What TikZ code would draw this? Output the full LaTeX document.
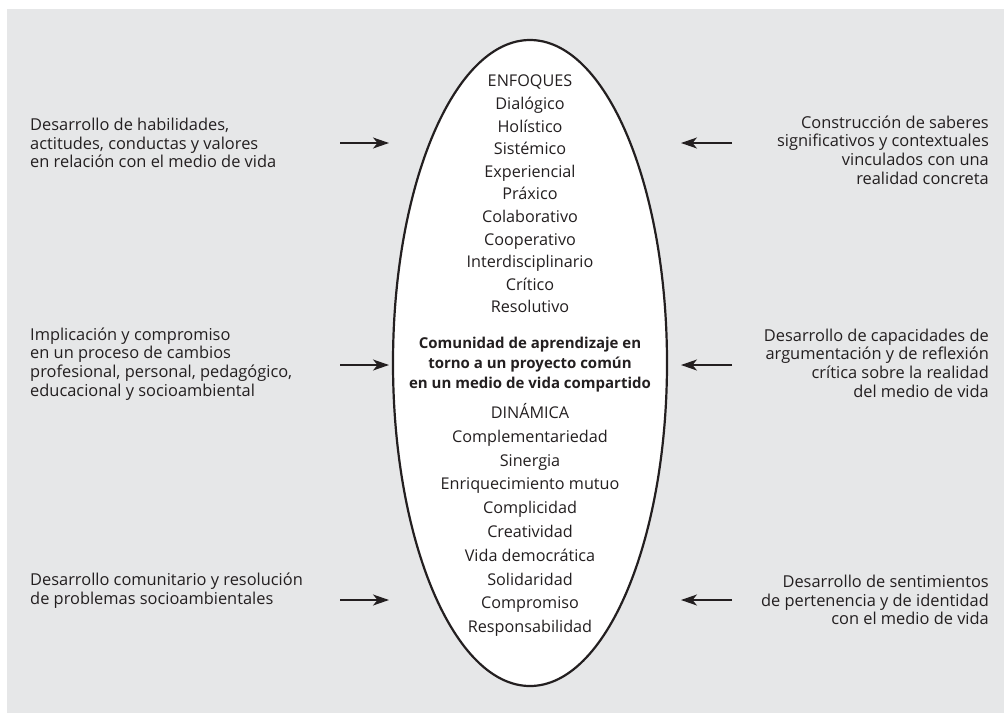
\documentclass[tikz,border=0pt]{standalone}
\usepackage{fontspec}
\setmainfont{Open Sans}
\usetikzlibrary{shapes.geometric,arrows.meta}
\definecolor{fondo}{HTML}{E6E7E8}
\definecolor{tinta}{HTML}{231F20}

\begin{document}
\begin{tikzpicture}[x=1pt,y=-1pt,
    lado/.style ={font=\fontsize{16.4}{18.7}\selectfont, text=tinta, inner sep=0pt},
    izq/.style ={lado, anchor=west, align=left},
    der/.style ={lado, anchor=east, align=right},
    lista/.style ={font=\fontsize{16.2}{22.6}\selectfont, text=tinta, align=center, inner sep=0pt},
    nucleo/.style ={font=\fontsize{15}{20}\selectfont\bfseries, text=tinta, align=center, inner sep=0pt},
    flecha/.style ={line width=1.4pt, draw=tinta, -{Stealth[length=16pt,width=11pt,inset=4.5pt]}}]
   \useasboundingbox (0,0) rectangle (1004,713);
   \fill[fondo] (7,9) rectangle (1004,713);
   \node[ellipse, draw=tinta, line width=2.2pt, fill=white, inner sep=0pt,
         minimum width=274pt, minimum height=646pt] (ovalo) at (530,363) {};
   \node[lista] (enfoques) at (530,194) {ENFOQUES\\Dialógico\\Holístico\\Sistémico\\Experiencial\\Práxico\\Colaborativo\\Cooperativo\\Interdisciplinario\\Crítico\\Resolutivo};
   \node[nucleo] (comunidad) at (530,365) {Comunidad de aprendizaje en\\torno a un proyecto común\\en un medio de vida compartido};
   \node[lista, font=\fontsize{16.2}{23.8}\selectfont] (dinamica) at (530,520) {DINÁMICA\\Complementariedad\\Sinergia\\Enriquecimiento mutuo\\Complicidad\\Creatividad\\Vida democrática\\Solidaridad\\Compromiso\\Responsabilidad};
   \node[izq] (habilidades) at (30,143) {Desarrollo de habilidades,\\actitudes, conductas y valores\\en relación con el medio de vida};
   \node[izq] (implicacion) at (30,364) {Implicación y compromiso\\en un proceso de cambios\\profesional, personal, pedagógico,\\educacional y socioambiental};
   \node[izq] (comunitario) at (30,591) {Desarrollo comunitario y resolución\\de problemas socioambientales};
   \node[der] (saberes) at (989,150) {Construcción de saberes\\significativos y contextuales\\vinculados con una\\realidad concreta};
   \node[der] (capacidades) at (989,363) {Desarrollo de capacidades de\\argumentación y de reflexión\\crítica sobre la realidad\\del medio de vida};
   \node[der] (sentimientos) at (989,600) {Desarrollo de sentimientos\\de pertenencia y de identidad\\con el medio de vida};
   \coordinate (i1) at (340,143);  \coordinate (i1f) at (389,143);
   \coordinate (i2) at (340,365);  \coordinate (i2f) at (389,365);
   \coordinate (i3) at (340,600);  \coordinate (i3f) at (389,600);
   \coordinate (d1) at (732,143);  \coordinate (d1f) at (681,143);
   \coordinate (d2) at (732,365);  \coordinate (d2f) at (681,365);
   \coordinate (d3) at (732,600);  \coordinate (d3f) at (681,600);
   \draw[flecha] (i1) to (i1f);
   \draw[flecha] (i2) to (i2f);
   \draw[flecha] (i3) to (i3f);
   \draw[flecha] (d1) to (d1f);
   \draw[flecha] (d2) to (d2f);
   \draw[flecha] (d3) to (d3f);
 \end{tikzpicture}
\end{document}
